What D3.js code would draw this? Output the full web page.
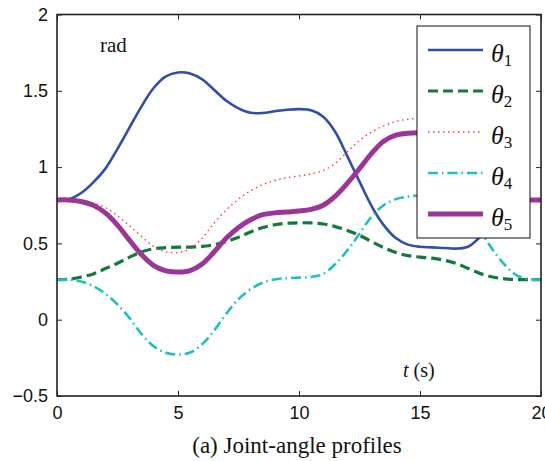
<!DOCTYPE html>
<html>
<head>
<meta charset="utf-8">
<script src="https://cdn.jsdelivr.net/npm/d3@7"></script>
<style>
  html, body { margin: 0; padding: 0; background: #fff; }
  svg { display: block; }
</style>
</head>
<body>
<svg id="chart" width="545" height="461"></svg>
<script>
// Sample times (s)
const times = d3.range(0, 20.001, 0.5);

// Joint angles (rad), one value per sample time
const theta1 = [0.785, 0.79, 0.83, 0.90, 0.99, 1.12, 1.26, 1.40, 1.52, 1.595, 1.62, 1.613, 1.575, 1.505, 1.435, 1.385, 1.356, 1.355, 1.366, 1.376, 1.38, 1.372, 1.33, 1.23, 1.07, 0.905, 0.745, 0.62, 0.535, 0.492, 0.478, 0.474, 0.47, 0.466, 0.48, 0.545, 0.635, 0.715, 0.765, 0.782, 0.785];
const theta2 = [0.262, 0.265, 0.28, 0.30, 0.335, 0.37, 0.41, 0.445, 0.465, 0.472, 0.475, 0.476, 0.48, 0.492, 0.512, 0.54, 0.575, 0.604, 0.622, 0.632, 0.635, 0.634, 0.627, 0.61, 0.585, 0.553, 0.512, 0.472, 0.44, 0.42, 0.41, 0.403, 0.39, 0.368, 0.335, 0.302, 0.28, 0.268, 0.263, 0.262, 0.262];
const theta3 = [0.785, 0.785, 0.78, 0.765, 0.735, 0.68, 0.615, 0.545, 0.48, 0.445, 0.44, 0.465, 0.535, 0.635, 0.72, 0.79, 0.845, 0.885, 0.912, 0.93, 0.942, 0.955, 0.978, 1.025, 1.10, 1.175, 1.23, 1.27, 1.298, 1.314, 1.32, 1.32, 1.30, 1.24, 1.13, 1.00, 0.89, 0.82, 0.79, 0.785, 0.785];
const theta4 = [0.262, 0.262, 0.25, 0.22, 0.17, 0.10, 0.01, -0.095, -0.175, -0.217, -0.228, -0.215, -0.16, -0.07, 0.04, 0.135, 0.2, 0.242, 0.264, 0.272, 0.276, 0.28, 0.3, 0.365, 0.455, 0.565, 0.675, 0.75, 0.79, 0.807, 0.815, 0.82, 0.815, 0.78, 0.70, 0.58, 0.46, 0.36, 0.29, 0.265, 0.262];
const theta5 = [0.785, 0.785, 0.775, 0.75, 0.70, 0.62, 0.52, 0.425, 0.355, 0.32, 0.312, 0.322, 0.365, 0.445, 0.535, 0.605, 0.655, 0.688, 0.70, 0.706, 0.712, 0.723, 0.75, 0.81, 0.895, 0.99, 1.09, 1.17, 1.21, 1.222, 1.225, 1.225, 1.21, 1.17, 1.08, 0.97, 0.87, 0.81, 0.79, 0.785, 0.785];

const seriesNames = ["1", "2", "3", "4", "5"];
const xTicks = [0, 5, 10, 15, 20];
const yTicks = [-0.5, 0, 0.5, 1, 1.5, 2];

const series = [
  { sub: seriesNames[0], values: theta1, color: "#2f4fa6", width: 2.6, dash: null },
  { sub: seriesNames[1], values: theta2, color: "#127a3a", width: 3.2, dash: "10,5" },
  { sub: seriesNames[2], values: theta3, color: "#ff3a3a", width: 1.4, dash: "1.5,3.5" },
  { sub: seriesNames[3], values: theta4, color: "#1fbfbf", width: 2.6, dash: "10,4,1.5,4" },
  { sub: seriesNames[4], values: theta5, color: "#9b3596", width: 5, dash: null }
];

const svg = d3.select("#chart");
const plot = { left: 57, right: 541, top: 14.5, bottom: 396 };

const x = d3.scaleLinear().domain([0, 20]).range([plot.left, plot.right]);
const y = d3.scaleLinear().domain([-0.5, 2]).range([plot.bottom, plot.top]);

const sans = "'Liberation Sans', Arial, Helvetica, sans-serif";
const serif = "'Liberation Serif', 'Times New Roman', Times, serif";

// Curves
const line = d3.line()
  .x((d, i) => x(times[i]))
  .y(d => y(d))
  .curve(d3.curveCatmullRom.alpha(0.5));

const g = svg.append("g");
series.forEach(s => {
  g.append("path")
    .attr("d", line(s.values))
    .attr("fill", "none")
    .attr("stroke", s.color)
    .attr("stroke-width", s.width)
    .attr("stroke-dasharray", s.dash)
    .attr("stroke-linejoin", "round");
});

// Axes with inward ticks on all four sides
const fmt = v => (v < 0 ? "\u2212" + Math.abs(v) : String(v));
const tickLen = 5;

const xAxisB = d3.axisBottom(x).tickValues(xTicks).tickSize(-tickLen).tickPadding(10).tickFormat(fmt);
const xAxisT = d3.axisTop(x).tickValues(xTicks).tickSize(-tickLen).tickFormat("");
const yAxisL = d3.axisLeft(y).tickValues(yTicks).tickSize(-tickLen).tickPadding(9).tickFormat(fmt);
const yAxisR = d3.axisRight(y).tickValues(yTicks).tickSize(-tickLen).tickFormat("");

function styleAxis(sel) {
  sel.select(".domain").remove();
  sel.selectAll(".tick line").attr("stroke", "#222").attr("stroke-width", 1);
  sel.selectAll(".tick text").attr("fill", "#111").style("font-family", sans).style("font-size", "18px");
}

svg.append("g").attr("transform", `translate(0,${plot.bottom})`).call(xAxisB).call(styleAxis);
svg.append("g").attr("transform", `translate(0,${plot.top})`).call(xAxisT).call(styleAxis);
svg.append("g").attr("transform", `translate(${plot.left},0)`).call(yAxisL).call(styleAxis);
svg.append("g").attr("transform", `translate(${plot.right},0)`).call(yAxisR).call(styleAxis);

// Frame
svg.append("rect")
  .attr("x", plot.left).attr("y", plot.top)
  .attr("width", plot.right - plot.left).attr("height", plot.bottom - plot.top)
  .attr("fill", "none").attr("stroke", "#222").attr("stroke-width", 1.6);

// Annotations
svg.append("text").attr("x", 100).attr("y", 52)
  .style("font-family", serif).style("font-size", "21px").attr("fill", "#111")
  .text("rad");

const tl = svg.append("text").attr("x", 403).attr("y", 377)
  .style("font-family", serif).style("font-size", "20px").attr("fill", "#111");
tl.append("tspan").style("font-style", "italic").text("t");
tl.append("tspan").text(" (s)");

svg.append("text").attr("x", 297).attr("y", 453).attr("text-anchor", "middle")
  .style("font-family", serif).style("font-size", "23px").attr("fill", "#111")
  .text("(a) Joint-angle profiles");

// Legend
const lg = svg.append("g");
lg.append("rect").attr("x", 417).attr("y", 26).attr("width", 113).attr("height", 212)
  .attr("fill", "#fff").attr("stroke", "#111").attr("stroke-width", 1);

series.forEach((s, i) => {
  const ly = 50 + i * 41;
  lg.append("line")
    .attr("x1", 428).attr("x2", 483).attr("y1", ly).attr("y2", ly)
    .attr("stroke", s.color).attr("stroke-width", s.width)
    .attr("stroke-dasharray", s.dash);
  const t = lg.append("text").attr("x", 491).attr("y", ly + 12)
    .style("font-family", serif).attr("fill", "#111");
  t.append("tspan").style("font-style", "italic").style("font-size", "26px").text("\u03B8");
  t.append("tspan").attr("dy", 4).style("font-size", "17px").text(s.sub);
});
</script>
</body>
</html>
